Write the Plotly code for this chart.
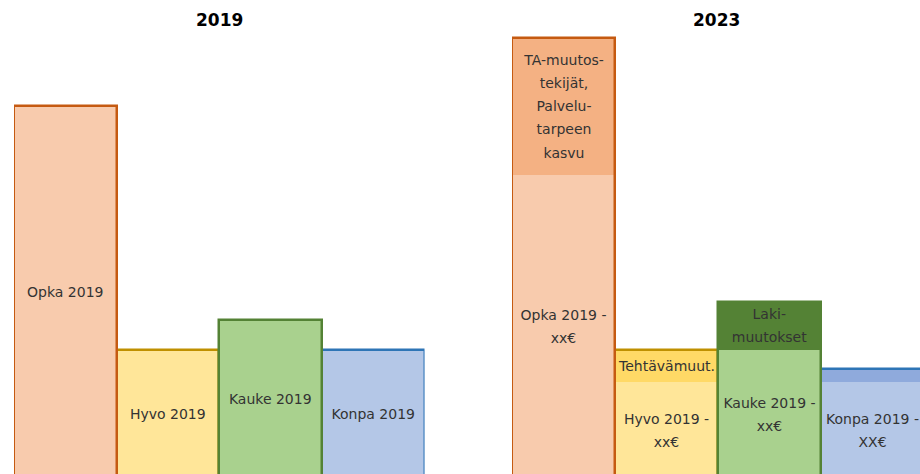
import plotly.graph_objects as go

# ---------------- data ----------------
categories = ["Opka", "Hyvo", "Kauke", "Konpa"]
panel_titles = ["2019", "2023"]

values_2019 = [373, 129, 159, 129]
labels_2019 = ["Opka 2019", "Hyvo 2019", "Kauke 2019", "Konpa 2019"]

base_2023 = [304, 97, 129, 97]
increase_2023 = [137, 32, 48, 13]
labels_2023_base = ["Opka 2019 -\nxx€", "Hyvo 2019 -\nxx€", "Kauke 2019 -\nxx€", "Konpa 2019 -\nXX€"]
labels_2023_increase = ["TA-muutos-\ntekijät,\nPalvelu-\ntarpeen\nkasvu", "Tehtävämuut.", "Laki-\nmuutokset", ""]

# ---------------- style ----------------
fill_base = {"Opka": "#F8CBAD", "Hyvo": "#FFE699", "Kauke": "#A9D18E", "Konpa": "#B4C7E7"}
fill_inc = {"Opka": "#F4B183", "Hyvo": "#FFD966", "Kauke": "#548235", "Konpa": "#8FAADC"}
border = {"Opka": "#C55A11", "Hyvo": "#BF9000", "Kauke": "#548235", "Konpa": "#2E75B6"}
draw_order = ["Hyvo", "Konpa", "Opka", "Kauke"]  # so shared edges show the right colour

FONT = "DejaVu Sans"
TEXT_COLOR = "#333333"
LINE_W = 2.5


def fmt(label):
    if not label:
        return ""
    return "<br>".join(f"<span style='font-size:14px'>{ln}</span>" for ln in label.split("\n"))


text_common = dict(
    textposition="inside",
    insidetextanchor="middle",
    textangle=0,
    constraintext="none",
    textfont=dict(family=FONT, size=17.7, color=TEXT_COLOR),
    hoverinfo="skip",
    showlegend=False,
)

fig = go.Figure()

# ---- 2019 panel ----
for cat in draw_order:
    i = categories.index(cat)
    fig.add_trace(go.Bar(
        x=[cat], y=[values_2019[i]], text=[fmt(labels_2019[i])],
        marker=dict(color=fill_base[cat], line=dict(color=border[cat], width=LINE_W)),
        xaxis="x", yaxis="y", **text_common,
    ))

# ---- 2023 panel ----
for cat in draw_order:
    i = categories.index(cat)
    total = base_2023[i] + increase_2023[i]
    fig.add_trace(go.Bar(
        x=[cat], y=[base_2023[i]], text=[fmt(labels_2023_base[i])],
        marker=dict(color=fill_base[cat], line=dict(width=0)),
        xaxis="x2", yaxis="y", **text_common,
    ))
    fig.add_trace(go.Bar(
        x=[cat], y=[increase_2023[i]], base=[base_2023[i]], text=[fmt(labels_2023_increase[i])],
        marker=dict(color=fill_inc[cat], line=dict(width=0)),
        xaxis="x2", yaxis="y", **text_common,
    ))
    fig.add_trace(go.Bar(
        x=[cat], y=[total],
        marker=dict(color="rgba(0,0,0,0)", line=dict(color=border[cat], width=LINE_W)),
        xaxis="x2", yaxis="y", hoverinfo="skip", showlegend=False,
    ))

axis_common = dict(
    type="category", categoryorder="array", categoryarray=categories,
    showgrid=False, zeroline=False, showticklabels=False, showline=False, ticks="",
)

fig.update_layout(
    width=920, height=474,
    margin=dict(l=0, r=0, t=0, b=0),
    paper_bgcolor="white", plot_bgcolor="white",
    barmode="overlay", bargap=0,
    xaxis=dict(domain=[14 / 920, 424.5 / 920], range=[-0.5, 3.5], anchor="y", **axis_common),
    xaxis2=dict(domain=[512 / 920, 1], range=[-0.5, 3.461], anchor="y", **axis_common),
    yaxis=dict(range=[5, 479], domain=[0, 1], showgrid=False, zeroline=False,
               showticklabels=False, showline=False, ticks=""),
    annotations=[
        dict(text=f"<b>{panel_titles[0]}</b>", xref="x domain", x=0.5, yref="paper", y=1 - 19.5 / 474,
             yanchor="middle", showarrow=False, font=dict(family=FONT, size=17, color="#000000")),
        dict(text=f"<b>{panel_titles[1]}</b>", xref="x2 domain", x=0.5, yref="paper", y=1 - 19.5 / 474,
             yanchor="middle", showarrow=False, font=dict(family=FONT, size=17, color="#000000")),
    ],
)

fig.write_html(
    "out.html",
    config={"displayModeBar": False},
    post_script="document.body.style.margin='0';document.body.style.overflow='hidden';",
)
